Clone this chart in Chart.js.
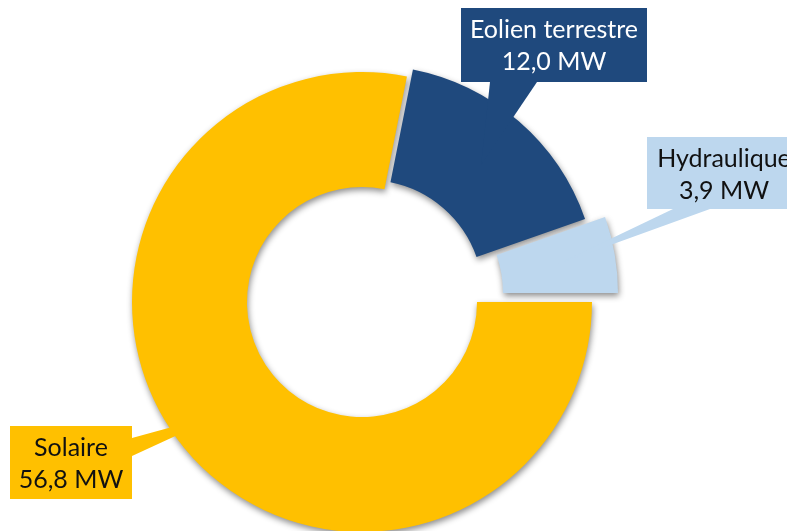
<!DOCTYPE html>
<html>
<head>
<meta charset="utf-8">
<script src="https://cdn.jsdelivr.net/npm/chart.js@4.4.1/dist/chart.umd.min.js"></script>
<style>
  html, body { margin: 0; padding: 0; background: #fff; overflow: hidden; }
  #wrap { position: absolute; left: 0; top: 0; width: 787px; height: 604px; }
</style>
</head>
<body>
<div id="wrap"><canvas id="mixChart" width="787" height="604"></canvas></div>
<script>
// Data
const categories = ['Solaire', 'Eolien terrestre', 'Hydraulique'];
const capacityMW = [56.8, 12.0, 3.9];

// Styles
const sliceColors = ['#FFC000', '#1F497D', '#BDD7EE'];
const textColors = ['#111111', '#FFFFFF', '#111111'];
// exploded pieces: shift of each slice (px)
const sliceShift = [[0, 0], [6, -7], [26, -9]];
// label boxes: left, top, width, height + the two points where the pointer leaves the box
const labelBoxes = [
    { x: 10, y: 426, w: 122, h: 73, base: [[132, 438], [132, 456]] },
    { x: 461, y: 8, w: 186, h: 74, base: [[490, 82], [537, 82]] },
    { x: 647, y: 137, w: 154, h: 72, base: [[673, 209], [710, 209]] }
];

function formatMW(v) {
    return v.toFixed(1).replace('.', ',') + ' MW';
}

// Shift the exploded slices after layout
const explodePlugin = {
    id: 'explode',
    afterDatasetsUpdate(chart) {
        const meta = chart.getDatasetMeta(0);
        meta.data.forEach((arc, i) => {
            arc.x += sliceShift[i][0];
            arc.y += sliceShift[i][1];
        });
    },
    beforeDatasetsDraw(chart) {
        const c = chart.ctx;
        c.save();
        c.shadowColor = 'rgba(0, 0, 0, 0.45)';
        c.shadowBlur = 6;
        c.shadowOffsetX = 1;
        c.shadowOffsetY = 3;
    },
    afterDatasetsDraw(chart) {
        const c = chart.ctx;
        c.restore();
        const meta = chart.getDatasetMeta(0);

        meta.data.forEach((arc, i) => {
            const box = labelBoxes[i];
            const tip = arc.getCenterPoint();

            c.fillStyle = sliceColors[i];
            // pointer
            c.beginPath();
            c.moveTo(box.base[0][0], box.base[0][1]);
            c.lineTo(tip.x, tip.y);
            c.lineTo(box.base[1][0], box.base[1][1]);
            c.closePath();
            c.fill();
            // box
            c.fillRect(box.x, box.y, box.w, box.h);

            // text
            c.fillStyle = textColors[i];
            c.font = '25px Lato';
            c.textAlign = 'center';
            c.textBaseline = 'alphabetic';
            const cx = box.x + box.w / 2;
            c.fillText(categories[i], cx, box.y + 30);
            c.fillText(formatMW(capacityMW[i]), cx, box.y + 62);
        });
    }
};

const ctx = document.getElementById('mixChart').getContext('2d');
const mixChart = new Chart(ctx, {
    type: 'doughnut',
    data: {
        labels: categories,
        datasets: [{
            data: capacityMW,
            backgroundColor: sliceColors,
            borderWidth: 0
        }]
    },
    options: {
        responsive: false,
        devicePixelRatio: 1,
        animation: false,
        rotation: 90,
        radius: 230,
        cutout: '50%',
        layout: {
            padding: { left: 0, right: 63, top: 0, bottom: 0 }
        },
        plugins: {
            legend: { display: false },
            tooltip: { enabled: false }
        }
    },
    plugins: [explodePlugin]
});
</script>
</body>
</html>
